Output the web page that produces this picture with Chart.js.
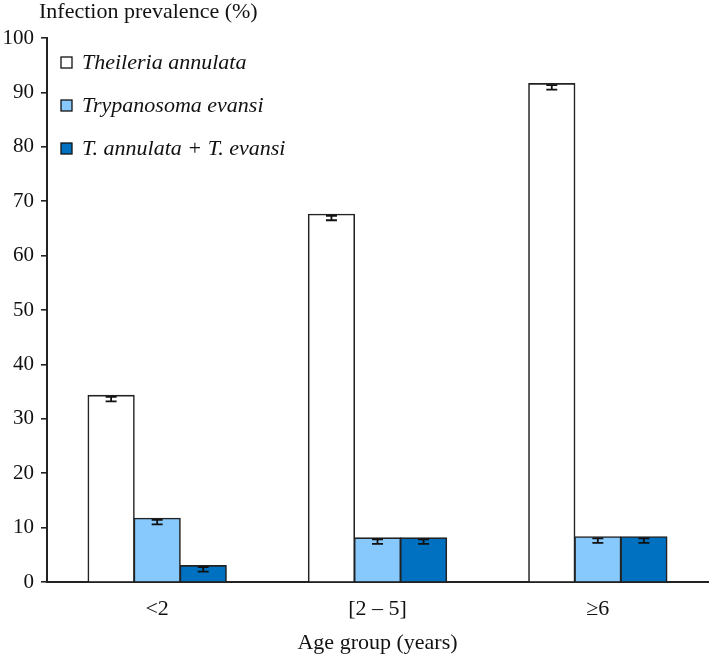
<!DOCTYPE html>
<html>
<head>
<meta charset="utf-8">
<script src="https://cdn.jsdelivr.net/npm/chart.js@4"></script>
<style>
  body { margin: 0; background: #fff; }
  #wrap { width: 709px; height: 656px; position: relative; }
</style>
</head>
<body>
<div id="wrap"><canvas id="myBarChart"></canvas></div>
<script>
const ageGroups = ['<2', '[2 \u2013 5]', '\u22656'];

const seriesNames = [
	'Theileria annulata',
	'Trypanosoma evansi',
	'T. annulata + T. evansi',
];

const theileria = [34.3, 67.6, 91.6];
const trypanosoma = [11.7, 8.1, 8.3];
const mixed = [3.0, 8.1, 8.3];

const theileriaErr = [1.1, 1.1, 1.1];
const trypanosomaErr = [1.1, 1.1, 1.1];
const mixedErr = [1.1, 1.1, 1.1];

const yTicks = [0, 10, 20, 30, 40, 50, 60, 70, 80, 90, 100];

const serif = 'Liberation Serif, Times New Roman, serif';

const data = {
	labels: ageGroups,
	datasets: [{
		label: seriesNames[0],
		data: theileria,
		errors: theileriaErr,
		backgroundColor: '#ffffff',
	}, {
		label: seriesNames[1],
		data: trypanosoma,
		errors: trypanosomaErr,
		backgroundColor: '#87c9fc',
	}, {
		label: seriesNames[2],
		data: mixed,
		errors: mixedErr,
		backgroundColor: '#0070c0',
	}]
};

// error bars, drawn from each value down by its error
const errorBars = {
	id: 'errorBars',
	afterDatasetsDraw(chart) {
		const ctx = chart.ctx;
		const y = chart.scales.y;
		ctx.save();
		ctx.strokeStyle = '#111';
		ctx.lineWidth = 1.8;
		chart.data.datasets.forEach((ds, i) => {
			chart.getDatasetMeta(i).data.forEach((bar, j) => {
				const top = y.getPixelForValue(ds.data[j]) + 1.5;
				const bot = y.getPixelForValue(ds.data[j] - ds.errors[j]);
				ctx.beginPath();
				ctx.moveTo(bar.x, top);
				ctx.lineTo(bar.x, bot);
				ctx.moveTo(bar.x - 5.5, top);
				ctx.lineTo(bar.x + 5.5, top);
				ctx.moveTo(bar.x - 5.5, bot);
				ctx.lineTo(bar.x + 5.5, bot);
				ctx.stroke();
			});
		});
		ctx.restore();
	}
};

// y title above the axis and the legend inside the plot
const extras = {
	id: 'extras',
	afterDraw(chart) {
		const ctx = chart.ctx;
		ctx.save();
		ctx.fillStyle = '#111';
		ctx.font = '22px ' + serif;
		ctx.textBaseline = 'alphabetic';
		ctx.textAlign = 'left';
		ctx.fillText('Infection prevalence (%)', 39, 18);

		ctx.font = 'italic 22px ' + serif;
		chart.data.datasets.forEach((ds, i) => {
			const cy = 62.5 + i * 43;
			ctx.fillStyle = ds.backgroundColor;
			ctx.fillRect(61, cy - 5.5, 11, 11);
			ctx.strokeStyle = '#111';
			ctx.lineWidth = 1.3;
			ctx.strokeRect(61, cy - 5.5, 11, 11);
			ctx.fillStyle = '#111';
			ctx.fillText(ds.label, 82, cy + 6.5);
		});
		ctx.restore();
	}
};

const barConfig = {
	type: 'bar',
	data: data,
	plugins: [errorBars, extras],
	options: {
		responsive: true,
		maintainAspectRatio: false,
		animation: false,
		layout: { padding: { top: 38, right: 1, left: 0, bottom: 0 } },
		datasets: {
			bar: {
				borderColor: '#222',
				borderWidth: 1.6,
				inflateAmount: 0.6,
				categoryPercentage: 0.627,
				barPercentage: 1.0,
			}
		},
		plugins: {
			legend: { display: false },
			tooltip: { enabled: false },
		},
		scales: {
			x: {
				grid: { display: false },
				border: { display: true, color: '#222', width: 2 },
				ticks: { color: '#111', font: { family: serif, size: 22 }, padding: 6 },
				title: {
					display: true,
					text: 'Age group (years)',
					color: '#111',
					font: { family: serif, size: 22 },
					padding: { top: 0, bottom: 0 },
				},
				afterFit(scale) { scale.height = 74; },
			},
			y: {
				min: 0,
				max: 100,
				afterBuildTicks(scale) { scale.ticks = yTicks.map(v => ({ value: v })); },
				grid: { drawOnChartArea: false, drawTicks: true, tickLength: 6, color: '#222', lineWidth: 1.6 },
				border: { display: true, color: '#222', width: 2 },
				ticks: { color: '#111', font: { family: serif, size: 21 }, padding: 7 },
				afterFit(scale) { scale.width = 47; },
			},
		},
	},
};

const myBarChart = new Chart(
	document.getElementById('myBarChart'),
	barConfig
);
</script>
</body>
</html>
